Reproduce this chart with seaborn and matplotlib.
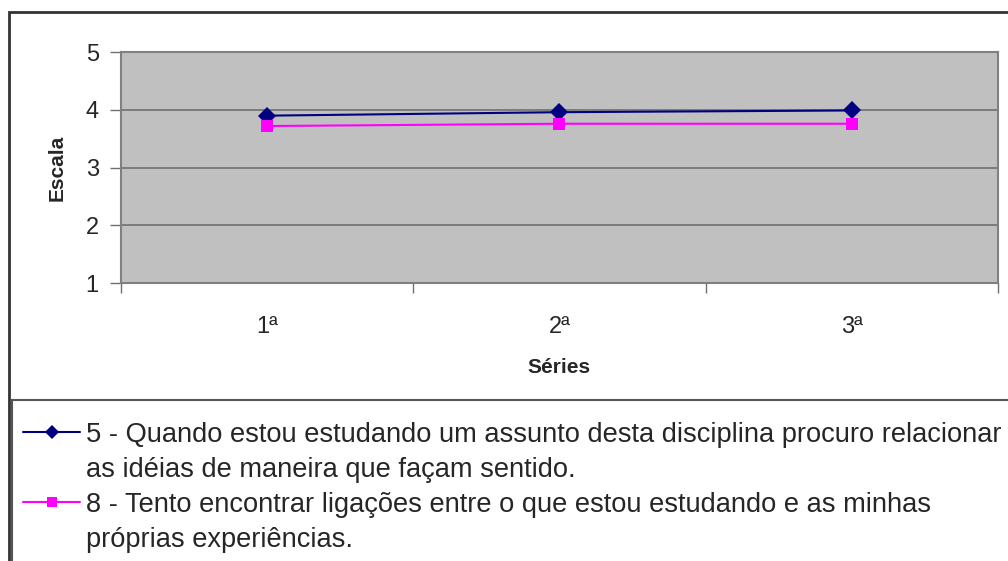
import matplotlib
matplotlib.use("Agg")
import matplotlib.pyplot as plt
from matplotlib.patches import Rectangle
from matplotlib.lines import Line2D
import pandas as pd
import seaborn as sns

# ─── DATA ─────────────────────────────────────────────────
series_labels = ["1ª", "2ª", "3ª"]
item5_values = [3.90, 3.96, 3.99]
item8_values = [3.72, 3.76, 3.76]
item5_lines = ["5 - Quando estou estudando um assunto desta disciplina procuro relacionar",
               "as idéias de maneira que façam sentido."]
item8_lines = ["8 - Tento encontrar ligações entre o que estou estudando e as minhas",
               "próprias experiências."]

df = pd.DataFrame({
    "pos": list(range(len(series_labels))) * 2,
    "valor": item5_values + item8_values,
    "item": ["item5"] * 3 + ["item8"] * 3,
})

# ─── STYLE ────────────────────────────────────────────────
sns.set_style("white")
plt.rcParams["font.family"] = ["Liberation Sans", "DejaVu Sans"]

fig = plt.figure(figsize=(10.08, 5.61), dpi=100)
ax = fig.add_axes([0.120, 0.4955, 0.870, 0.4115])
ax.set_facecolor("#C0C0C0")

# outer chart border (cut off at right and bottom in the original)
fig.patches.append(Rectangle((0.009, -0.05), 1.2, 1.029, transform=fig.transFigure,
                             fill=False, edgecolor="#333333", linewidth=2))

for y in [2, 3, 4]:
    ax.axhline(y, color="#707070", linewidth=1.2, zorder=0)

sns.lineplot(data=df, x="pos", y="valor", hue="item", style="item",
             palette=["#000080", "#FF00FF"], markers=["D", "s"], dashes=False,
             markersize=9, linewidth=1.5, markeredgewidth=0, ax=ax)

ax.set_xlim(-0.5, 2.5)
ax.set_ylim(1, 5)
ax.set_yticks([1, 2, 3, 4, 5])
ax.set_xticks([0, 1, 2])
ax.set_xticklabels(series_labels)
ax.set_xticks([-0.5, 0.5, 1.5, 2.5], minor=True)
ax.tick_params(axis="x", which="major", bottom=True, length=0, pad=24, labelsize=17)
ax.tick_params(axis="x", which="minor", bottom=True, length=7, width=1, color="#707070", direction="out")
ax.tick_params(axis="y", left=True, length=8, width=1, color="#707070", direction="out", labelsize=17, pad=8)
for s in ax.spines.values():
    s.set_color("#808080")
    s.set_linewidth(1.5)

ax.set_xlabel("Séries", fontsize=15, fontweight="bold", labelpad=14)
ax.set_ylabel("Escala", fontsize=15, fontweight="bold", labelpad=14)

# legend box across the bottom; each wrapped label gets a blank handle on its 2nd line
fig.patches.append(Rectangle((0.012, -0.01), 1.0, 0.297, transform=fig.transFigure,
                             fill=False, edgecolor="#555555", linewidth=1.5))
handles, _ = ax.get_legend_handles_labels()
ax.legend_.remove()
blank = Line2D([], [], color="none")
leg = fig.legend([handles[0], blank, handles[1], blank],
                 [item5_lines[0], item5_lines[1], item8_lines[0], item8_lines[1]],
                 loc="upper left", bbox_to_anchor=(0.0228, 0.248),
                 fontsize=19.6, frameon=False, borderaxespad=0, borderpad=0,
                 handlelength=2.1, handletextpad=0.2, labelspacing=0.33,
                 markerscale=0.75)

fig.savefig("out.png", dpi=100)
